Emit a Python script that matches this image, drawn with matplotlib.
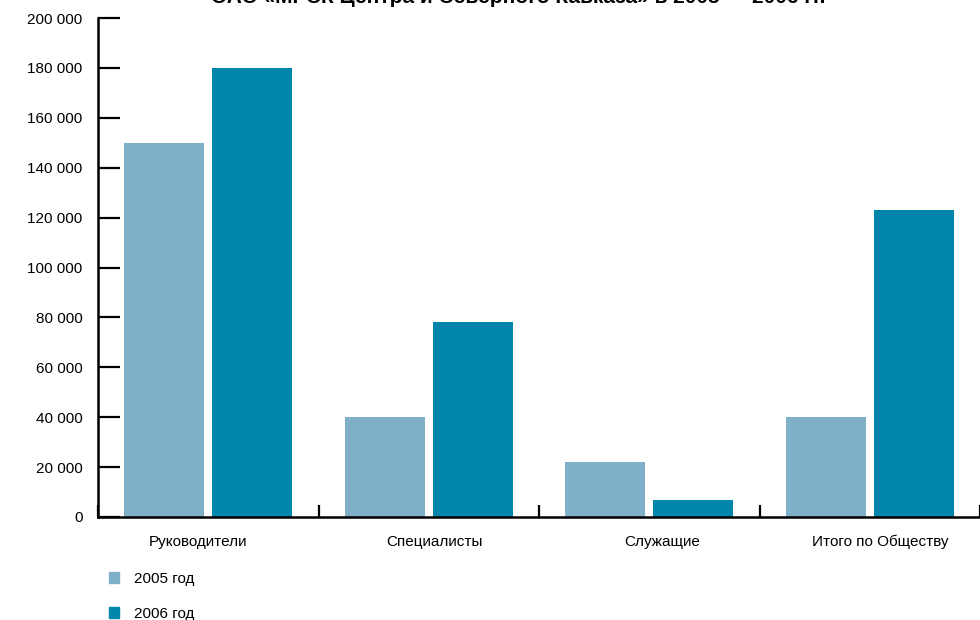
import matplotlib
matplotlib.use('Agg')
import numpy as np
import matplotlib.pyplot as plt
import matplotlib.transforms as mtransforms
from matplotlib.patches import Patch
from matplotlib.ticker import FuncFormatter

categories = ['Руководители', 'Специалисты', 'Служащие', 'Итого по Обществу']
values_2005 = [150000, 40000, 22000, 40000]
values_2006 = [180000, 78000, 7000, 123000]
series_labels = ['2005 год', '2006 год']
colors = ['#7FB0C8', '#0086AB']
title = 'ОАО «МРСК Центра и Северного Кавказа» в 2005 — 2006 гг.'

plt.rcParams['font.family'] = ['Liberation Sans', 'DejaVu Sans']

fig = plt.figure(figsize=(9.8, 6.2), dpi=100)
ax = fig.add_axes([98/980, 1 - 517/620, 1 - 98/980, (517 - 18)/620])

x = np.arange(len(categories)) + 0.5
width = 80/220.5
off = 44/220.5
ax.bar(x - off, values_2005, width, color=colors[0])
ax.bar(x + off, values_2006, width, color=colors[1])

ax.set_xlim(0, len(categories))
ax.set_ylim(0, 200000)
ax.set_yticks(np.arange(0, 200001, 20000))
ax.yaxis.set_major_formatter(FuncFormatter(lambda v, p: f'{int(v):,}'.replace(',', ' ')))
ax.tick_params(axis='y', direction='in', length=16, width=1.6, labelsize=11, pad=11)

ax.set_xticks(x)
ax.set_xticklabels(categories)
ax.tick_params(axis='x', which='major', length=0, labelsize=11, pad=13)
# labels in the reference sit slightly off the group centres
shifts = [-10, 6, 13, 10]
for lab, dx in zip(ax.get_xticklabels(), shifts):
    lab.set_transform(lab.get_transform() + mtransforms.ScaledTranslation(dx/100, 0, fig.dpi_scale_trans))
ax.set_xticks(np.arange(0, len(categories) + 1), minor=True)
ax.tick_params(axis='x', which='minor', direction='in', length=9, width=1.6)

for side in ['top', 'right']:
    ax.spines[side].set_visible(False)
ax.spines['left'].set_linewidth(1.8)
ax.spines['bottom'].set_linewidth(1.8)

fig.text(0.529, 1 - 3/620, title, ha='center', va='baseline', fontsize=15, fontweight='bold')

handles = [Patch(color=c) for c in colors]
fig.legend(handles, series_labels, loc='upper left', bbox_to_anchor=(95/980, 1 - 558/620),
           frameon=False, fontsize=11, handlelength=0.7, handleheight=0.7,
           labelspacing=1.4, handletextpad=0.95)

plt.savefig('out.png', dpi=100)
